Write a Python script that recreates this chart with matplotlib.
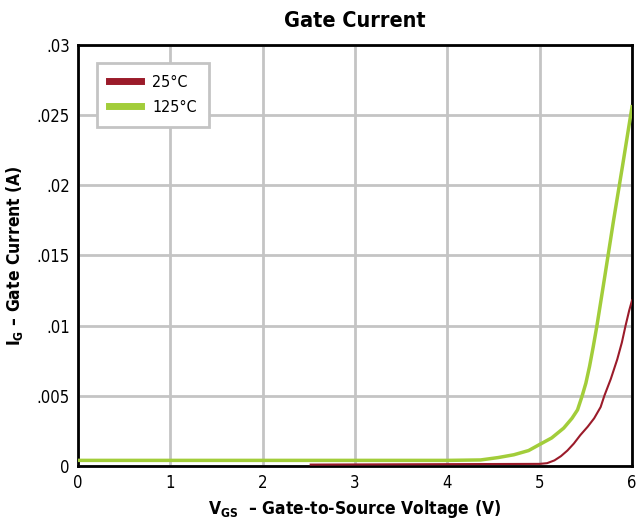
import matplotlib
matplotlib.use('Agg')
import matplotlib.pyplot as plt
from matplotlib.lines import Line2D

plt.rcParams['font.family'] = ['DejaVu Sans']
plt.rcParams['font.stretch'] = 'condensed'
plt.rcParams['mathtext.fontset'] = 'custom'
plt.rcParams['mathtext.rm'] = 'DejaVu Sans:bold'
plt.rcParams['mathtext.it'] = 'DejaVu Sans:bold'

# 125C curve
x125 = [0.0, 4.0, 4.36, 4.55, 4.72, 4.88, 4.99, 5.13, 5.26, 5.35, 5.41, 5.46, 5.50, 5.54, 5.58, 5.62, 5.70, 5.8, 5.9, 6.0]
y125 = [0.0004, 0.0004, 0.00043, 0.0006, 0.0008, 0.0011, 0.0015, 0.002, 0.0027, 0.0034, 0.004, 0.005, 0.0059, 0.0071, 0.0085, 0.01, 0.0133, 0.0175, 0.0215, 0.0256]
# 25C curve
x25 = [2.52, 3.5, 4.5, 5.0, 5.08, 5.16, 5.23, 5.3, 5.37, 5.44, 5.52, 5.59, 5.66, 5.70, 5.77, 5.84, 5.89, 5.93, 5.97, 6.0]
y25 = [0.0001, 0.00012, 0.00014, 0.00015, 0.0002, 0.0004, 0.0007, 0.0011, 0.0016, 0.0022, 0.0028, 0.0034, 0.0042, 0.005, 0.0062, 0.0076, 0.0088, 0.01, 0.0111, 0.0118]

xticks = [0, 1, 2, 3, 4, 5, 6]
yticks = [0, 0.005, 0.01, 0.015, 0.02, 0.025, 0.03]
ylabels = ['0', '.005', '.01', '.015', '.02', '.025', '.03']

red = '#9b1b2a'
green = '#a2cd3a'

fig = plt.figure(figsize=(6.41, 5.25), dpi=100)
ax = fig.add_axes([0.1217, 0.1124, 0.8643, 0.8019])

ax.plot(x25, y25, color=red, lw=1.5, zorder=3)
ax.plot(x125, y125, color=green, lw=2.5, zorder=3)

ax.set_xlim(0, 6)
ax.set_ylim(0, 0.03)
ax.set_xticks(xticks)
ax.set_yticks(yticks)
ax.set_yticklabels(ylabels)
ax.tick_params(length=0, labelsize=12, pad=6)
ax.grid(True, color='#c4c4c4', lw=2)
ax.set_axisbelow(True)
for s in ax.spines.values():
    s.set_linewidth(2)
    s.set_color('black')

ax.set_title('Gate Current', fontsize=15.5, fontweight='bold', pad=13)
ax.set_xlabel(r'V$_{\mathrm{GS}}$  – Gate-to-Source Voltage (V)', fontsize=12.5, fontweight='bold', labelpad=4)
ax.set_ylabel(r'I$_{\mathrm{G}}$ – Gate Current (A)', fontsize=12.5, fontweight='bold', labelpad=8)

handles = [Line2D([], [], color=red, lw=5), Line2D([], [], color=green, lw=5)]
leg = ax.legend(handles, ['25°C', '125°C'], loc='upper left', bbox_to_anchor=(0.034, 0.957),
                borderaxespad=0, fancybox=False, framealpha=1, edgecolor='#c4c4c4', fontsize=11.5,
                handlelength=2.0, handletextpad=0.7, borderpad=0.75, labelspacing=0.6)
leg.get_frame().set_linewidth(2)

fig.savefig('out.png', dpi=100)
